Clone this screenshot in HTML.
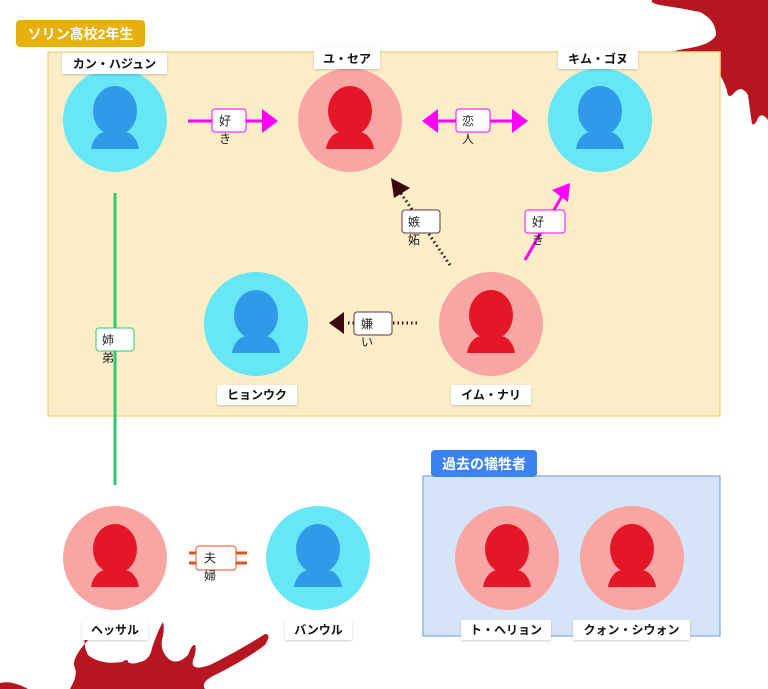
<!DOCTYPE html>
<html><head><meta charset="utf-8"><style>
html,body{margin:0;padding:0;background:#fff;}
svg{display:block;font-family:"Liberation Sans","Noto Sans CJK JP",sans-serif;}
.nm{font-size:12px;font-weight:bold;fill:#111;text-anchor:middle;}
.lb{font-size:12px;fill:#222;}
</style></head><body>
<svg width="768" height="689" viewBox="0 0 768 689" xmlns="http://www.w3.org/2000/svg">
<defs>
<filter id="sh" x="-20%" y="-30%" width="140%" height="160%"><feDropShadow dx="0" dy="1" stdDeviation="1" flood-opacity="0.2"/></filter>
<g id="pf"><ellipse cx="0" cy="-10" rx="22" ry="25" fill="#e51628"/><path d="M-17,14 Q-12,10 -6,12 L6,12 Q12,10 17,14 Q23,20 24,28 L-24,28 Q-23,20 -17,14 Z" fill="#e51628"/></g>
<g id="pm"><ellipse cx="0" cy="-10" rx="22" ry="25" fill="#2f9ae8"/><path d="M-17,14 Q-12,10 -6,12 L6,12 Q12,10 17,14 Q23,20 24,28 L-24,28 Q-23,20 -17,14 Z" fill="#2f9ae8"/></g>
</defs>
<!-- splatters -->
<path d="M652,0 L768,0 L768,120 Q762,112 758,118 Q755,126 752,124 Q750,110 748,95 Q742,85 735,92 Q730,98 728,95 Q726,85 720,75 Q715,72 705,68 Q690,66 665,64 Q652,62 655,58 Q665,52 690,48 Q712,44 716,35 Q716,20 700,12 Q680,8 660,5 Q650,3 652,0 Z" fill="#b5161f"/>
<path d="M0,689 L0,683 Q12,680 28,689 Z" fill="#b5161f"/>
<path d="M70,689 Q78,675 75,668 Q70,660 88,640 Q90,632 85,635 Q83,645 88,655 Q100,665 122,662 Q128,658 128,662 Q132,665 140,662 Q150,660 152,648 Q158,630 163,622 Q165,628 162,640 Q160,652 170,660 Q178,665 188,655 Q192,644 195,645 Q197,650 193,660 Q190,672 210,665 Q240,650 265,634 Q272,634 265,645 Q245,660 215,675 Q200,682 205,689 Z" fill="#b5161f"/>
<!-- yellow group -->
<rect x="48" y="52" width="672" height="364" fill="#faedc8" stroke="#f3d98c" stroke-width="1.5"/>
<rect x="16" y="20" width="129" height="27" rx="4" fill="#e6b00f"/>
<text x="80.5" y="39" font-size="14" font-weight="bold" fill="#fff" text-anchor="middle">ソリン高校2年生</text>
<!-- blue group -->
<rect x="423" y="476" width="297" height="160" fill="#d6e4fa" stroke="#7ea6e6" stroke-width="1.2"/>
<rect x="431" y="450" width="106" height="27" rx="4" fill="#3b82f0"/>
<text x="484" y="469" font-size="14" font-weight="bold" fill="#fff" text-anchor="middle">過去の犠牲者</text>
<!-- green line -->
<line x1="115" y1="193" x2="115" y2="485" stroke="#2ecc71" stroke-width="3"/>
<rect x="96" y="328" width="38" height="23" rx="3" fill="#fff" stroke="#2ecc71"/>
<text x="102" y="344" class="lb">姉</text><text x="102" y="362" class="lb">弟</text>
<!-- Kan -> Yu -->
<line x1="188" y1="121" x2="264" y2="121" stroke="#ff00ff" stroke-width="3"/>
<polygon points="262,109 278,121 262,133" fill="#ff00ff"/>
<rect x="212" y="109" width="34" height="23" rx="3" fill="#fff" stroke="#ff00ff"/>
<text x="219" y="125" class="lb">好</text><text x="219" y="143" class="lb">き</text>
<!-- Yu <-> Kim -->
<line x1="436" y1="121" x2="514" y2="121" stroke="#ff00ff" stroke-width="3"/>
<polygon points="438,109 422,121 438,133" fill="#ff00ff"/>
<polygon points="512,109 528,121 512,133" fill="#ff00ff"/>
<rect x="456" y="109" width="34" height="23" rx="3" fill="#fff" stroke="#ff00ff"/>
<text x="462" y="125" class="lb">恋</text><text x="462" y="143" class="lb">人</text>
<!-- Im -> Kim -->
<line x1="525" y1="260" x2="562" y2="196" stroke="#ff00ff" stroke-width="3"/>
<polygon points="552,190 570,183 568,202" fill="#ff00ff"/>
<rect x="525" y="210" width="40" height="23" rx="3" fill="#fff" stroke="#ff00ff"/>
<text x="532" y="226" class="lb">好</text><text x="532" y="244" class="lb">き</text>
<!-- jealousy -->
<line x1="450" y1="265" x2="400" y2="192" stroke="#3a0a10" stroke-width="3" stroke-dasharray="1.5,3"/>
<polygon points="391,178 410,188 394,198" fill="#3a0a10"/>
<rect x="402" y="210" width="38" height="23" rx="3" fill="#fff" stroke="#5a3a3a"/>
<text x="408" y="226" class="lb">嫉</text><text x="408" y="244" class="lb">妬</text>
<!-- dislike -->
<line x1="417" y1="323" x2="345" y2="323" stroke="#3a0a10" stroke-width="3" stroke-dasharray="1.5,3"/>
<polygon points="344,312 329,323 344,334" fill="#3a0a10"/>
<rect x="354" y="312" width="38" height="23" rx="3" fill="#fff" stroke="#5a3a3a"/>
<text x="361" y="328" class="lb">嫌</text><text x="361" y="346" class="lb">い</text>
<!-- couple -->
<line x1="189" y1="553" x2="247" y2="553" stroke="#e8501a" stroke-width="3"/>
<line x1="189" y1="563" x2="247" y2="563" stroke="#e8501a" stroke-width="3"/>
<rect x="196" y="546" width="40" height="24" rx="3" fill="#fff" stroke="#e8501a"/>
<text x="204" y="562" class="lb">夫</text><text x="204" y="580" class="lb">婦</text>
<!-- people -->
<ellipse cx="115" cy="120" rx="52" ry="52" fill="#67e6f5"/><use href="#pm" x="115" y="121"/>
<ellipse cx="350" cy="120" rx="52" ry="52" fill="#f9a5a3"/><use href="#pf" x="350" y="121"/>
<ellipse cx="600" cy="120" rx="52" ry="52" fill="#67e6f5"/><use href="#pm" x="600" y="121"/>
<ellipse cx="256" cy="324" rx="52" ry="52" fill="#67e6f5"/><use href="#pm" x="256" y="325"/>
<ellipse cx="491" cy="324" rx="52" ry="52" fill="#f9a5a3"/><use href="#pf" x="491" y="325"/>
<ellipse cx="115" cy="558" rx="52" ry="52" fill="#f9a5a3"/><use href="#pf" x="115" y="559"/>
<ellipse cx="318" cy="558" rx="52" ry="52" fill="#67e6f5"/><use href="#pm" x="318" y="559"/>
<ellipse cx="507" cy="558" rx="52" ry="52" fill="#f9a5a3"/><use href="#pf" x="507" y="559"/>
<ellipse cx="632" cy="558" rx="52" ry="52" fill="#f9a5a3"/><use href="#pf" x="632" y="559"/>
<!-- name labels -->
<g filter="url(#sh)" fill="#fff">
<rect x="62" y="53" width="105" height="21" rx="2"/>
<rect x="314" y="48" width="66" height="21" rx="2"/>
<rect x="558" y="48" width="80" height="21" rx="2"/>
<rect x="217" y="385" width="80" height="20" rx="2"/>
<rect x="451" y="385" width="80" height="20" rx="2"/>
<rect x="82" y="620" width="66" height="20" rx="2"/>
<rect x="285" y="620" width="67" height="20" rx="2"/>
<rect x="461" y="620" width="90" height="20" rx="2"/>
<rect x="573" y="620" width="117" height="20" rx="2"/>
</g>
<text x="114.5" y="68" class="nm">カン・ハジュン</text>
<text x="347" y="63" class="nm">ユ・セア</text>
<text x="598" y="63" class="nm">キム・ゴヌ</text>
<text x="257" y="399" class="nm">ヒョンウク</text>
<text x="491" y="399" class="nm">イム・ナリ</text>
<text x="115" y="634" class="nm">ヘッサル</text>
<text x="318.5" y="634" class="nm">バンウル</text>
<text x="506" y="634" class="nm">ト・ヘリョン</text>
<text x="631.5" y="634" class="nm">クォン・シウォン</text>
</svg>
</body></html>
